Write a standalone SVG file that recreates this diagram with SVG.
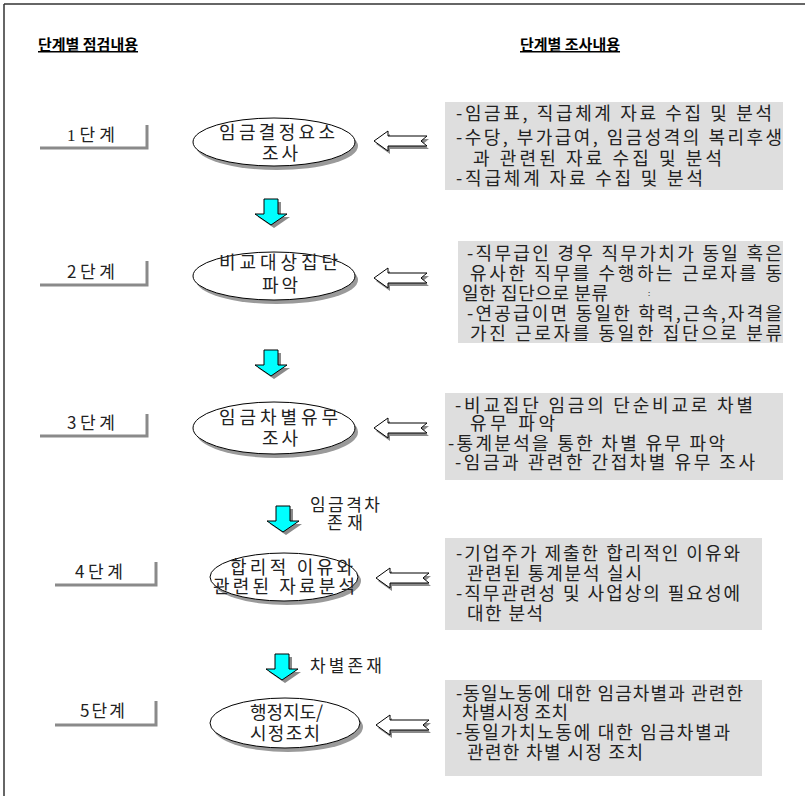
<svg xmlns="http://www.w3.org/2000/svg" xmlns:xlink="http://www.w3.org/1999/xlink" width="805" height="796" viewBox="0 0 805 796">
<style>
text{font-family:"Noto Sans CJK KR","Noto Sans",sans-serif;fill:#222;font-size:18px}
.hdr{font-weight:bold;font-size:15px;fill:#000;text-decoration:underline}
.box{fill:#dedede}
.step{stroke:#8a8a8a;stroke-width:3;fill:none}
.ell{fill:#fff;stroke:#000;stroke-width:1}
.ellsh{fill:#9a9a9a}
.cyan{fill:#00ffff;stroke:#000;stroke-width:1}
.sh{fill:#8a8a8a}
.hollow{fill:#fff;stroke:#000;stroke-width:1}
.lbl{font-size:17px}
.stp{font-size:17px}
</style>
<defs>
<path id="harrow" d="M0,0 L14,-10 L14,-5 L53,-5 L47,0 L53,5 L14,5 L14,10 Z"/>
<path id="carrow" d="M9,0 H23 V15 H32 L16,26 L0,15 H9 Z"/>
</defs>
<g id="frame">
<line x1="4" y1="4" x2="805" y2="4" stroke="#666" stroke-width="2"/>
<line x1="4" y1="4" x2="4" y2="796" stroke="#333" stroke-width="1.5"/>
</g>
<g id="headers">
<text class="hdr" x="38" y="50">단계별 점검내용</text>
<text class="hdr" x="520" y="50">단계별 조사내용</text>
</g>
<g id="connectors">
<use xlink:href="#carrow" class="sh" transform="translate(258,202)"/>
<use xlink:href="#carrow" class="cyan" transform="translate(255,199)"/>
<use xlink:href="#carrow" class="sh" transform="translate(258,353)"/>
<use xlink:href="#carrow" class="cyan" transform="translate(255,350)"/>
<use xlink:href="#carrow" class="sh" transform="translate(270,509)"/>
<use xlink:href="#carrow" class="cyan" transform="translate(267,506)"/>
<use xlink:href="#carrow" class="sh" transform="translate(269,657)"/>
<use xlink:href="#carrow" class="cyan" transform="translate(266,654)"/>
<use xlink:href="#harrow" class="sh" transform="translate(376,144)"/>
<use xlink:href="#harrow" class="hollow" transform="translate(374,141)"/>
<use xlink:href="#harrow" class="sh" transform="translate(376,281)"/>
<use xlink:href="#harrow" class="hollow" transform="translate(374,278)"/>
<use xlink:href="#harrow" class="sh" transform="translate(376,431)"/>
<use xlink:href="#harrow" class="hollow" transform="translate(374,428)"/>
<use xlink:href="#harrow" class="sh" transform="translate(378,581)"/>
<use xlink:href="#harrow" class="hollow" transform="translate(376,578)"/>
<use xlink:href="#harrow" class="sh" transform="translate(378,728)"/>
<use xlink:href="#harrow" class="hollow" transform="translate(376,725)"/>
<text class="lbl" x="310" y="511" textLength="70" lengthAdjust="spacing">임금격차</text>
<text class="lbl" x="327" y="529" textLength="36" lengthAdjust="spacing">존재</text>
<text class="lbl" x="310" y="672" textLength="72" lengthAdjust="spacing">차별존재</text>
</g>
<g id="step1">
<polyline class="step" points="40,148 147,148 147,125"/>
<text class="stp" x="67" y="141" textLength="48" lengthAdjust="spacing"><tspan style="font-family:'Liberation Serif',serif">1</tspan>단계</text>
</g>
<g id="step2">
<polyline class="step" points="40,285 147,285 147,261"/>
<text class="stp" x="67" y="278" textLength="48" lengthAdjust="spacing">2단계</text>
</g>
<g id="step3">
<polyline class="step" points="40,436 147,436 147,414"/>
<text class="stp" x="67" y="429" textLength="48" lengthAdjust="spacing">3단계</text>
</g>
<g id="step4">
<polyline class="step" points="55,585 156,585 156,562"/>
<text class="stp" x="75" y="578" textLength="48" lengthAdjust="spacing">4단계</text>
</g>
<g id="step5">
<polyline class="step" points="55,725 156,725 156,701"/>
<text class="stp" x="80" y="717" textLength="45" lengthAdjust="spacing">5단계</text>
</g>
<g id="node1">
<ellipse class="ellsh" cx="277" cy="146" rx="81" ry="24"/>
<ellipse class="ell" cx="274" cy="142" rx="81" ry="24"/>
<text x="219" y="139" textLength="116" lengthAdjust="spacing">임금결정요소</text>
<text x="262" y="160" textLength="36" lengthAdjust="spacing">조사</text>
</g>
<g id="node2">
<ellipse class="ellsh" cx="277" cy="280" rx="81" ry="24"/>
<ellipse class="ell" cx="274" cy="276" rx="81" ry="24"/>
<text x="219" y="269" textLength="119" lengthAdjust="spacing">비교대상집단</text>
<text x="262" y="292" textLength="36" lengthAdjust="spacing">파악</text>
</g>
<g id="node3">
<ellipse class="ellsh" cx="277" cy="432" rx="81" ry="26"/>
<ellipse class="ell" cx="274" cy="428" rx="81" ry="26"/>
<text x="219" y="424" textLength="119" lengthAdjust="spacing">임금차별유무</text>
<text x="262" y="445" textLength="36" lengthAdjust="spacing">조사</text>
</g>
<g id="node4">
<ellipse class="ellsh" cx="287" cy="581" rx="74" ry="24"/>
<ellipse class="ell" cx="284" cy="577" rx="74" ry="24"/>
<text x="230" y="574" textLength="123" lengthAdjust="spacing">합리적 이유와</text>
<text x="213" y="593" textLength="142" lengthAdjust="spacing">관련된 자료분석</text>
</g>
<g id="node5">
<ellipse class="ellsh" cx="288" cy="727" rx="75" ry="25"/>
<ellipse class="ell" cx="285" cy="723" rx="75" ry="25"/>
<text x="250" y="719" textLength="73" lengthAdjust="spacing">행정지도/</text>
<text x="250" y="740" textLength="70" lengthAdjust="spacing">시정조치</text>
</g>
<g id="detail1">
<rect class="box" x="445" y="102" width="338" height="88"/>
<text x="456" y="120" textLength="316" lengthAdjust="spacing">-임금표, 직급체계 자료 수집 및 분석</text>
<text x="456" y="144" textLength="326" lengthAdjust="spacing">-수당, 부가급여, 임금성격의 복리후생</text>
<text x="473" y="165" textLength="249" lengthAdjust="spacing">과 관련된 자료 수집 및 분석</text>
<text x="456" y="185" textLength="247" lengthAdjust="spacing">-직급체계 자료 수집 및 분석</text>
</g>
<g id="detail2">
<rect class="box" x="458" y="241" width="325" height="102"/>
<text x="467" y="260" textLength="315" lengthAdjust="spacing">-직무급인 경우 직무가치가 동일 혹은</text>
<text x="470" y="280" textLength="312" lengthAdjust="spacing">유사한 직무를 수행하는 근로자를 동</text>
<text x="462" y="300" textLength="146" lengthAdjust="spacing">일한 집단으로 분류</text>
<text x="648" y="296" style="font-size:8px">:</text>
<text x="467" y="320" textLength="315" lengthAdjust="spacing">-연공급이면 동일한 학력,근속,자격을</text>
<text x="470" y="340" textLength="312" lengthAdjust="spacing">가진 근로자를 동일한 집단으로 분류</text>
</g>
<g id="detail3">
<rect class="box" x="445" y="393" width="338" height="87"/>
<text x="455" y="412" textLength="298" lengthAdjust="spacing">-비교집단 임금의 단순비교로 차별</text>
<text x="470" y="430" textLength="85" lengthAdjust="spacing">유무 파악</text>
<text x="448" y="450" textLength="277" lengthAdjust="spacing">-통계분석을 통한 차별 유무 파악</text>
<text x="455" y="469" textLength="300" lengthAdjust="spacing">-임금과 관련한 간접차별 유무 조사</text>
</g>
<g id="detail4">
<rect class="box" x="445" y="538" width="317" height="92"/>
<text x="456" y="560" textLength="284" lengthAdjust="spacing">-기업주가 제출한 합리적인 이유와</text>
<text x="467" y="580" textLength="175" lengthAdjust="spacing">관련된 통계분석 실시</text>
<text x="456" y="600" textLength="284" lengthAdjust="spacing">-직무관련성 및 사업상의 필요성에</text>
<text x="467" y="620" textLength="76" lengthAdjust="spacing">대한 분석</text>
</g>
<g id="detail5">
<rect class="box" x="445" y="680" width="317" height="96"/>
<text x="456" y="700" textLength="287" lengthAdjust="spacing">-동일노동에 대한 임금차별과 관련한</text>
<text x="462" y="719" textLength="106" lengthAdjust="spacing">차별시정 조치</text>
<text x="456" y="739" textLength="274" lengthAdjust="spacing">-동일가치노동에 대한 임금차별과</text>
<text x="467" y="759" textLength="176" lengthAdjust="spacing">관련한 차별 시정 조치</text>
</g>
</svg>
